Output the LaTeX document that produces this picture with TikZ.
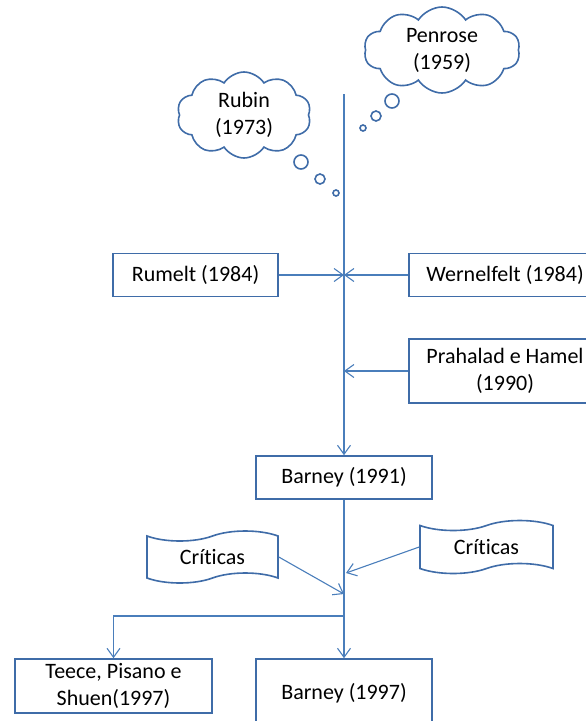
\documentclass[tikz,border=0pt]{standalone}
\usepackage{fontspec}
\setmainfont[Ligatures=NoCommon]{Carlito}
\usetikzlibrary{arrows.meta,shapes.symbols}
\definecolor{linkblue}{HTML}{4A7EBB}
\definecolor{edgeblue}{HTML}{3F6CA8}
\begin{document}
\begin{tikzpicture}[x=1pt,y=-1pt,
  font=\fontsize{22}{27}\selectfont,
  box/.style={rectangle,draw=edgeblue,line width=1.6pt,fill=white,inner sep=0pt,align=center},
  link/.style={draw=linkblue,line width=1.1pt},
  tip/.style={-{Straight Barb[length=9pt,width=13pt]}},
  thought/.style={cloud,draw=edgeblue,line width=1.6pt,cloud puffs=10,cloud puff arc=115,
    cloud ignores aspect,inner sep=0pt,align=center},
  bubble/.style={circle,draw=edgeblue,line width=1.6pt,inner sep=0pt},
  scroll/.style={tape,draw=edgeblue,line width=1.6pt,fill=white,inner sep=0pt,
    tape bend top=in and out,tape bend bottom=in and out,tape bend height=10pt}
]
\useasboundingbox (0,0) rectangle (586,721);
\clip (0,0) rectangle (586,721);

% thought clouds with their trailing bubbles
\node[thought,minimum width=134pt,minimum height=86pt] (rubin) at (244,115) {Rubin\\(1973)};
\node[bubble,minimum size=14pt] (rb1) at (301,162) {};
\node[bubble,minimum size=10pt] (rb2) at (320,179) {};
\node[bubble,minimum size=6pt]  (rb3) at (336,193) {};

\node[thought,minimum width=156pt,minimum height=86pt] (penrose) at (442,50) {Penrose\\(1959)};
\node[bubble,minimum size=14pt] (pb1) at (392,101) {};
\node[bubble,minimum size=10pt] (pb2) at (376,116) {};
\node[bubble,minimum size=6pt]  (pb3) at (363,128) {};

% boxes
\node[box,minimum width=165pt,minimum height=43pt] (rumelt) at (195.5,275) {Rumelt (1984)};
\node[box,minimum width=192pt,minimum height=43pt] (wern) at (505,275) {Wernelfelt (1984)};
\node[box,minimum width=192pt,minimum height=64pt] (prah) at (505,371) {Prahalad e Hamel\\(1990)};
\node[box,minimum width=176pt,minimum height=43pt] (b91) at (344,477.5) {Barney (1991)};
\node[box,minimum width=176pt,minimum height=68pt] (b97) at (344,693) {Barney (1997)};
\node[box,minimum width=197pt,minimum height=54pt] (teece) at (113.5,686) {Teece, Pisano e\\Shuen(1997)};

% critique scrolls
\node[scroll,minimum width=131pt,minimum height=52pt] (critL) at (212.5,557) {Críticas};
\node[scroll,minimum width=133pt,minimum height=53pt] (critR) at (486.5,547) {Críticas};

% junction points on the main line
\coordinate (top) at (344,94);
\coordinate (jR) at (344,275);
\coordinate (jP) at (344,371);
\coordinate (jC1) at (344,594);
\coordinate (jC2) at (346,573);
\coordinate (split) at (344,616);

% connectors
\draw[link,tip] (top) -- (b91.north);
\draw[link,tip] (rumelt.east) -- (jR);
\draw[link,tip] (wern.west) -- (jR);
\draw[link,tip] (prah.west) -- (jP);
\draw[link,tip] (b91.south) -- (b97.north);
\draw[link,tip] (critL.east) -- (jC1);
\draw[link,tip] (critR.west) -- (jC2);
\draw[link,tip] (split) -| (teece.north);
\end{tikzpicture}
\end{document}
